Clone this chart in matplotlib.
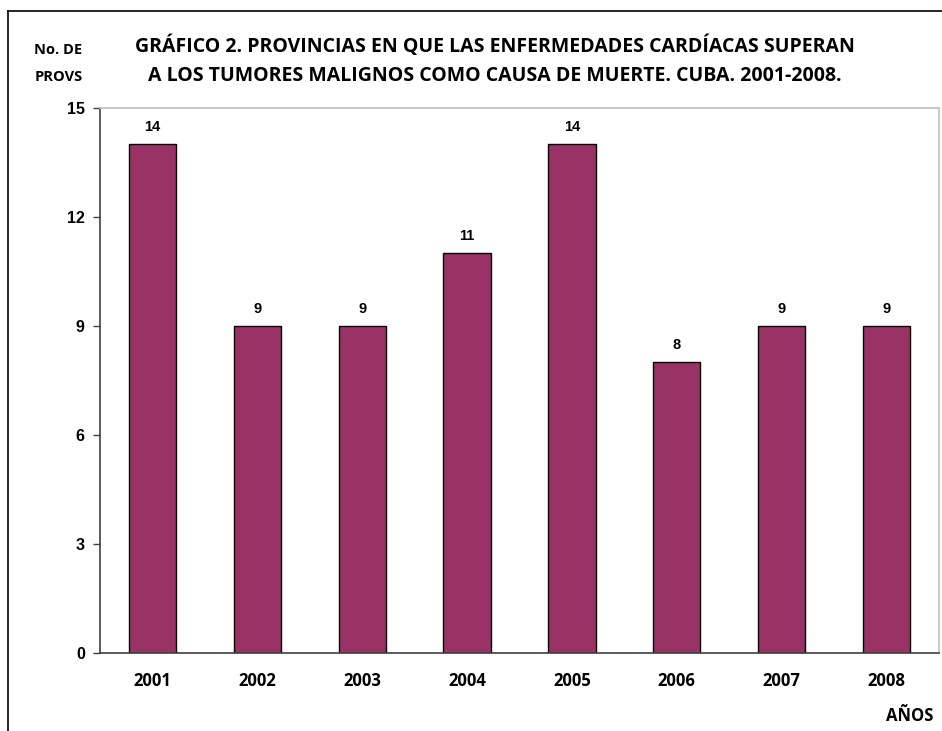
import matplotlib.pyplot as plt
from matplotlib.lines import Line2D

years = ['2001', '2002', '2003', '2004', '2005', '2006', '2007', '2008']
provs = [14, 9, 9, 11, 14, 8, 9, 9]
y_ticks = [0, 3, 6, 9, 12, 15]

fig = plt.figure(figsize=(9.42, 7.31), dpi=100)
ax = fig.add_axes([0.1062, 0.1067, 0.8906, 0.7456])

x = range(len(years))
ax.bar(x, provs, width=0.45, color='#993366', edgecolor='black', linewidth=1)

for xi, v in zip(x, provs):
    ax.annotate(str(v), (xi, v), xytext=(0, 12.5), textcoords='offset points',
                ha='center', va='center', fontsize=10.5, fontweight='bold',
                family='Liberation Sans')

ax.set_xlim(-0.5, len(years) - 0.5)
ax.set_ylim(0, 15)
ax.set_yticks(y_ticks)
ax.set_yticklabels([str(t) for t in y_ticks], fontsize=11.5, fontweight='bold',
                   family='Liberation Sans')
ax.set_xticks(list(x))
ax.set_xticklabels(years, fontsize=12, fontweight='bold', family='Open Sans')
ax.tick_params(axis='x', length=0, pad=14)
ax.tick_params(axis='y', length=5, width=1, color='#404040', pad=6, direction='out')

for side in ['top', 'right']:
    ax.spines[side].set_color('#c0c0c0')
    ax.spines[side].set_linewidth(1.2)
for side in ['left', 'bottom']:
    ax.spines[side].set_color('#404040')
    ax.spines[side].set_linewidth(1.2)

fig.text(0.5255, 0.937, 'GRÁFICO 2. PROVINCIAS EN QUE LAS ENFERMEDADES CARDÍACAS SUPERAN',
         ha='center', va='center', fontsize=14, fontweight='bold', family='Open Sans')
fig.text(0.5255, 0.896, 'A LOS TUMORES MALIGNOS COMO CAUSA DE MUERTE. CUBA. 2001-2008.',
         ha='center', va='center', fontsize=14, fontweight='bold', family='Open Sans')
fig.text(0.062, 0.931, 'No. DE', ha='center', va='center', fontsize=10.5,
         fontweight='bold', family='Open Sans')
fig.text(0.062, 0.895, 'PROVS', ha='center', va='center', fontsize=10.5,
         fontweight='bold', family='Open Sans')
fig.text(0.966, 0.020, 'AÑOS', ha='center', va='center', fontsize=12,
         fontweight='bold', family='Open Sans')

# outer frame (left and top edges)
fig.add_artist(Line2D([0.0085, 0.0085], [0.0, 0.985], color='black', lw=1.2,
                      transform=fig.transFigure))
fig.add_artist(Line2D([0.0085, 1.0], [0.985, 0.985], color='black', lw=1.2,
                      transform=fig.transFigure))

fig.savefig('out.png', dpi=100)
